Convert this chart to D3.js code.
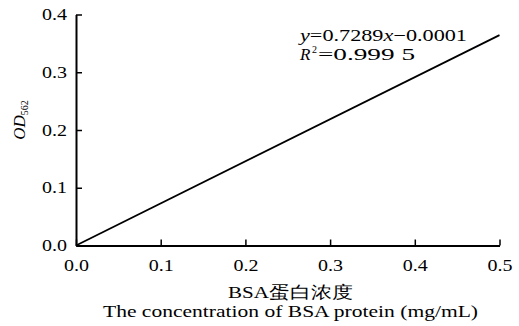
<!DOCTYPE html>
<html>
<head>
<meta charset="utf-8">
<script src="https://d3js.org/d3.v7.min.js"></script>
<style>
  body { margin: 0; background: #fff; }
  svg { display: block; }
  text { font-family: "Liberation Serif", "Times New Roman", serif; fill: #000; }
</style>
</head>
<body>
<svg width="519" height="326"></svg>
<script>
// fitted line endpoints (mg/mL, OD562)
const concX = [0, 0.5];
const odY = [0, 0.3643];
const xTicks = [0, 0.1, 0.2, 0.3, 0.4, 0.5];
const yTicks = [0, 0.1, 0.2, 0.3, 0.4];

const svg = d3.select("svg");
const x = d3.scaleLinear().domain([0, 0.5]).range([76, 499.5]);
const y = d3.scaleLinear().domain([0, 0.4]).range([245.5, 14.5]);

function styleTicks(g) {
  g.select(".domain").attr("stroke-width", 2);
  g.selectAll(".tick line").attr("stroke-width", 1.5);
  g.selectAll("text")
    .style("font-family", "'Liberation Serif', serif")
    .attr("font-size", 16)
    .attr("textLength", 25)
    .attr("lengthAdjust", "spacingAndGlyphs");
}

// x axis, ticks pointing in
const gx = svg.append("g").attr("transform", `translate(0,${y(0)})`)
  .call(d3.axisBottom(x).tickValues(xTicks).tickSizeInner(-6).tickSizeOuter(0)
    .tickPadding(14).tickFormat(d3.format(".1f")));
styleTicks(gx);

const gy = svg.append("g").attr("transform", `translate(${x(0)},0)`)
  .call(d3.axisLeft(y).tickValues(yTicks).tickSizeInner(-6).tickSizeOuter(0)
    .tickPadding(9).tickFormat(d3.format(".1f")));
styleTicks(gy);

// fit line
svg.append("path")
  .datum(concX.map((c, i) => [c, odY[i]]))
  .attr("fill", "none").attr("stroke", "#000").attr("stroke-width", 1.8)
  .attr("d", d3.line().x(d => x(d[0])).y(d => y(d[1])));

// y label
const yl = svg.append("text").attr("transform", "translate(25,120) rotate(-90)")
  .attr("text-anchor", "middle").attr("font-size", 17);
yl.append("tspan").attr("font-style", "italic").text("OD");
yl.append("tspan").attr("font-size", 10).attr("dy", 3).text("562");

// x labels
svg.append("text").attr("x", 228).attr("y", 298)
  .attr("font-size", 17).attr("textLength", 125).attr("lengthAdjust", "spacingAndGlyphs")
  .text("BSA蛋白浓度");
svg.append("text").attr("x", 103).attr("y", 317)
  .attr("font-size", 16).attr("textLength", 375).attr("lengthAdjust", "spacingAndGlyphs")
  .text("The concentration of BSA protein (mg/mL)");

// equation
const eq = svg.append("text").attr("x", 300).attr("y", 41).attr("font-size", 16.5)
  .attr("textLength", 167).attr("lengthAdjust", "spacingAndGlyphs");
eq.append("tspan").attr("font-style", "italic").text("y");
eq.append("tspan").text("=0.7289");
eq.append("tspan").attr("font-style", "italic").text("x");
eq.append("tspan").text("−0.0001");
const r2 = svg.append("g");
r2.append("text").attr("x", 300).attr("y", 60).attr("font-size", 17)
  .attr("font-style", "italic").text("R");
r2.append("text").attr("x", 312).attr("y", 53).attr("font-size", 10).text("2");
r2.append("text").attr("x", 318).attr("y", 60).attr("font-size", 16.5)
  .attr("textLength", 97).attr("lengthAdjust", "spacingAndGlyphs").text("=0.999 5");
</script>
</body>
</html>
